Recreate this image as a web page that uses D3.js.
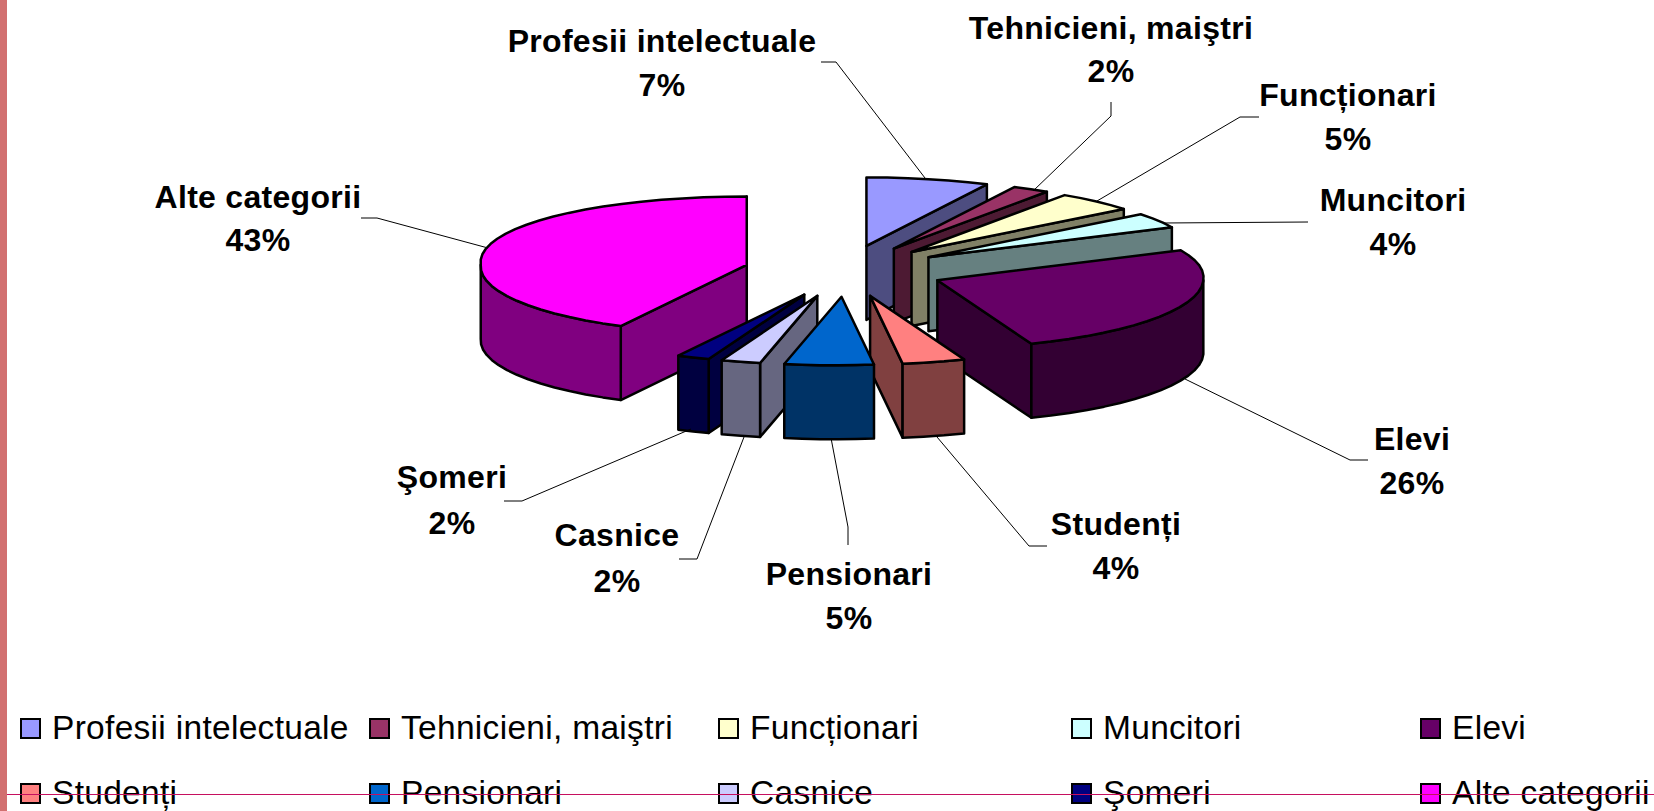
<!DOCTYPE html>
<html>
<head>
<meta charset="utf-8">
<script src="https://cdn.jsdelivr.net/npm/d3@7"></script>
<style>
    html, body { margin: 0; padding: 0; background: #fff; overflow: hidden; }
    text { font-family: "Liberation Sans", Arial, sans-serif; fill: #000; }
    .label { font-weight: bold; font-size: 32px; letter-spacing: 0.3px; text-anchor: middle; }
    .legend { font-size: 33.5px; letter-spacing: 0.3px; }
</style>
</head>
<body>
<svg id="chart" width="1654" height="811"></svg>
<script>
// Chart data
const categories = ["Profesii intelectuale", "Tehnicieni, maiştri", "Funcționari", "Muncitori", "Elevi",
    "Studenți", "Pensionari", "Casnice", "Şomeri", "Alte categorii"];
const shares = [7.2, 2.2, 4.8, 3.6, 26.1, 3.8, 5.4, 2.4, 2.0, 42.5];
const colors = ["#9999FF", "#993366", "#FFFFCC", "#CCFFFF", "#660066",
    "#FF8080", "#0066CC", "#CCCCFF", "#000080", "#FF00FF"];

// Painter's order for the slices, back to front
const drawOrder = [0, 1, 2, 3, 4, 9, 8, 7, 5, 6];

// Label placement: text centre, the two baselines, and the leader line
const labelPlaces = [
    { x: 662, y: [52, 96], leader: [[821, 62], [836, 62], [925, 178]] },
    { x: 1111, y: [39, 82], leader: [[1111, 102], [1111, 116], [1033, 191]] },
    { x: 1348, y: [106, 150], leader: [[1259, 117], [1240, 117], [1097, 201]] },
    { x: 1393, y: [211, 255], leader: [[1308, 222], [1163, 223]] },
    { x: 1412, y: [450, 494], leader: [[1368, 460], [1350, 460], [1185, 379]] },
    { x: 1116, y: [535, 579], leader: [[1047, 546], [1029, 546], [937, 437]] },
    { x: 849, y: [585, 629], leader: [[848, 545], [848, 527], [831, 438]] },
    { x: 617, y: [546, 592], leader: [[679, 559], [697, 559], [744, 437]] },
    { x: 452, y: [488, 534], leader: [[504, 501], [522, 501], [691, 429]] },
    { x: 258, y: [208, 251], leader: [[361, 218], [377, 218], [488, 248]] }
];

const legendColumns = [20, 369, 718, 1071, 1420];
const legendRows = [739, 804];

const svg = d3.select("#chart");

// Tilted pie: a unit circle mapped on to a flat ellipse
const x = d3.scaleLinear().domain([-1, 1]).range([844 - 266, 844 + 266]);
const y = d3.scaleLinear().domain([-1, 1]).range([271 + 68.5, 271 - 68.5]);
const depth = 74;
const explode = 0.376;
const frontLean = 0.022; // the front of the ellipse sits a bit to the left
const backWiden = 0.04;  // the back of it is a bit wider

const pie = d3.pie().sort(null)(shares);
const slices = pie.map((d, i) => {
    const mid = (d.startAngle + d.endAngle) / 2;
    return {
        i: i,
        a0: d.startAngle,
        a1: d.endAngle,
        ox: explode * Math.sin(mid),
        oy: explode * Math.cos(mid),
        color: colors[i],
        side: d3.interpolateRgb(colors[i], "#000")(0.5)
    };
});

function pt(s, a, r, drop) {
    const c = Math.cos(a);
    const across = c < 0 ? Math.sin(a) + frontLean * c : Math.sin(a) * (1 + backWiden * c);
    return [x(s.ox + r * across), y(s.oy + r * c) + (drop ? depth : 0)];
}

function arcPoints(s, a0, a1, drop) {
    const n = Math.max(2, Math.ceil((a1 - a0) / 0.08));
    return d3.range(n + 1).map(k => pt(s, a0 + (a1 - a0) * k / n, 1, drop));
}

const poly = d3.line();
const HALF = Math.PI / 2;

function face(points, fill) {
    svg.append("path")
        .attr("d", poly(points) + "Z")
        .attr("fill", fill)
        .attr("stroke", "#000")
        .attr("stroke-width", 2.5)
        .attr("stroke-linejoin", "round");
}

drawOrder.forEach(i => {
    const s = slices[i];

    // Straight cut walls that face the viewer
    if (Math.sin(s.a1) > 0) {
        face([pt(s, 0, 0, false), pt(s, s.a1, 1, false), pt(s, s.a1, 1, true), pt(s, 0, 0, true)], s.side);
    }
    if (Math.sin(s.a0) < 0) {
        face([pt(s, 0, 0, false), pt(s, s.a0, 1, false), pt(s, s.a0, 1, true), pt(s, 0, 0, true)], s.side);
    }

    // Rim, only the front half of the circle shows
    const from = Math.max(s.a0, HALF);
    const to = Math.min(s.a1, 3 * HALF);
    if (from < to) {
        face(arcPoints(s, from, to, false).concat(arcPoints(s, from, to, true).reverse()), s.side);
    }

    // Top face
    face([pt(s, 0, 0, false)].concat(arcPoints(s, s.a0, s.a1, false)), s.color);
});

// Leader lines and data labels
labelPlaces.forEach((p, i) => {
    svg.append("path")
        .attr("d", poly(p.leader))
        .attr("fill", "none")
        .attr("stroke", "#000")
        .attr("stroke-width", 1);
    svg.append("text").attr("class", "label").attr("x", p.x).attr("y", p.y[0]).text(categories[i]);
    svg.append("text").attr("class", "label").attr("x", p.x).attr("y", p.y[1]).text(Math.round(shares[i]) + "%");
});

// Legend, two rows of five
categories.forEach((c, i) => {
    const col = legendColumns[i % 5];
    const base = legendRows[Math.floor(i / 5)];
    svg.append("rect")
        .attr("x", col + 1).attr("y", base - 20)
        .attr("width", 19).attr("height", 19)
        .attr("fill", colors[i])
        .attr("stroke", "#000")
        .attr("stroke-width", 2);
    svg.append("text").attr("class", "legend").attr("x", col + 32).attr("y", base).text(c);
});

// Slide decoration: band on the left, thin rule across the bottom
svg.append("rect").attr("x", 0).attr("y", 0).attr("width", 7).attr("height", 811).attr("fill", "#D27070");
svg.append("line").attr("x1", 7).attr("x2", 1654).attr("y1", 794.5).attr("y2", 794.5)
    .attr("stroke", "#C6105F").attr("stroke-width", 1);
</script>
</body>
</html>
